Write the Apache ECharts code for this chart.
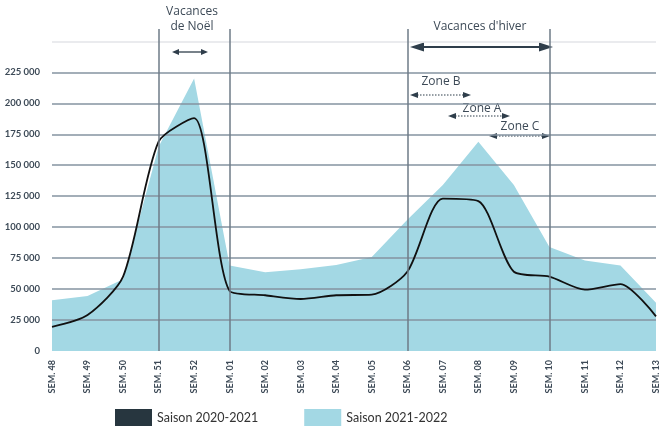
<html>

<head>
  <script src="https://cdn.jsdelivr.net/npm/echarts@6/dist/echarts.min.js"></script>
</head>

<body style="margin:0;">
  <div id="main" style="width: 669px;height:429px;"></div>
  <script>
    var weeks = ['SEM. 48', 'SEM. 49', 'SEM. 50', 'SEM. 51', 'SEM. 52', 'SEM. 01', 'SEM. 02', 'SEM. 03', 'SEM. 04',
      'SEM. 05', 'SEM. 06', 'SEM. 07', 'SEM. 08', 'SEM. 09', 'SEM. 10', 'SEM. 11', 'SEM. 12', 'SEM. 13'];
    var season2021 = [19500, 29000, 60000, 169000, 188000, 48500, 45000, 42000, 45000,
      45500, 64000, 123000, 121000, 64000, 60000, 49500, 54000, 28000];
    var season2122 = [41000, 44500, 58000, 165000, 220000, 69000, 63500, 66000, 69500,
      76000, 106000, 134000, 169000, 134000, 84000, 73000, 69000, 39000];
    var yTicks = [0, 25000, 50000, 75000, 100000, 125000, 150000, 175000, 200000, 225000];
    var holidayWeeks = ['SEM. 51', 'SEM. 01', 'SEM. 06', 'SEM. 10'];

    var myChart = echarts.init(document.getElementById('main'));
    var dark = '#2f3e4b';
    var txt = '#3d4a57';

    // double arrow, drawn as a line plus two triangle heads
    function arrow(x1, x2, y, head, half, width, dashed) {
      return {
        type: 'group',
        children: [{
            type: 'line',
            shape: { x1: x1 + head - 1, y1: y, x2: x2 - head + 1, y2: y },
            style: { stroke: dark, lineWidth: width, lineDash: dashed ? [1.5, 1.5] : null }
          },
          {
            type: 'polygon',
            shape: { points: [[x1, y], [x1 + head, y - half], [x1 + head, y + half]] },
            style: { fill: dark }
          },
          {
            type: 'polygon',
            shape: { points: [[x2, y], [x2 - head, y - half], [x2 - head, y + half]] },
            style: { fill: dark }
          }
        ]
      };
    }

    function label(text, x, y) {
      return {
        type: 'text', x: x, y: y,
        style: { text: text, fill: txt, font: '12px "Open Sans"', align: 'center', verticalAlign: 'middle' }
      };
    }

    option = {
      animation: false,
      textStyle: { fontFamily: 'Lato' },
      grid: {
        left: 52,
        right: 13,
        top: 29,
        bottom: 78
      },
      legend: {
        left: 115,
        top: 409,
        padding: 0,
        itemWidth: 37,
        itemHeight: 17,
        itemGap: 46,
        textStyle: { fontSize: 12.5, color: '#333', fontFamily: 'Lato' },
        data: [
          { name: 'Saison 2020-2021', icon: 'rect', itemStyle: { color: '#27363f' } },
          { name: 'Saison 2021-2022', icon: 'rect', itemStyle: { color: '#a3d8e4' } }
        ]
      },
      xAxis: {
        type: 'category',
        boundaryGap: false,
        data: weeks,
        axisLine: { show: false },
        axisTick: { show: false },
        axisLabel: {
          rotate: 90,
          margin: 9,
          fontSize: 9,
          fontWeight: 'bold',
          color: txt,
          fontFamily: 'Lato'
        }
      },
      yAxis: {
        type: 'value',
        min: 0,
        max: 260000,
        interval: 25000,
        z: 2,
        axisLine: { show: false },
        axisTick: { show: false },
        axisLabel: {
          margin: 12,
          fontSize: 9.5,
          fontWeight: 'bold',
          color: txt,
          fontFamily: 'Lato',
          formatter: function (v) {
            if (yTicks.indexOf(v) < 0) return '';
            return v === 0 ? '0' : (v / 1000) + ' 000';
          }
        },
        splitLine: {
          showMinLine: false,
          showMaxLine: false,
          lineStyle: {
            width: 1.5,
            color: ['#8593a0', '#8593a0', '#8593a0', '#8593a0', '#8593a0', '#8593a0', '#8593a0', '#8593a0', '#8593a0', '#e3e5e8']
          }
        }
      },
      series: [{
          name: 'Saison 2021-2022',
          type: 'line',
          z: 1,
          data: season2122,
          symbol: 'none',
          itemStyle: { color: '#a3d8e4' },
          lineStyle: { width: 0 },
          areaStyle: { color: '#a3d8e4', opacity: 1 }
        },
        {
          name: 'Saison 2020-2021',
          type: 'line',
          z: 3,
          data: season2021,
          smooth: 0.25,
          symbol: 'none',
          itemStyle: { color: '#27363f' },
          lineStyle: { color: '#111', width: 1.8 },
          markLine: {
            silent: true,
            symbol: 'none',
            label: { show: false },
            lineStyle: { color: '#6e7b87', width: 1.5, type: 'solid' },
            data: holidayWeeks.map(w => ({ xAxis: w }))
          }
        }
      ],
      graphic: [
        label('Vacances', 192, 12),
        label('de Noël', 192, 27),
        arrow(172, 208, 52, 7, 3, 1.3, false),
        label("Vacances d'hiver", 480, 27),
        arrow(410, 553, 47, 14, 4.5, 2, false),
        label('Zone B', 441, 82),
        arrow(410, 471, 95, 8, 3, 1.2, true),
        label('Zone A', 482, 109),
        arrow(448, 510, 116, 8, 3, 1.2, true),
        label('Zone C', 520, 127),
        arrow(489, 550, 136, 8, 3, 1.2, true)
      ]
    };

    myChart.setOption(option);

  </script>
</body>

</html>
